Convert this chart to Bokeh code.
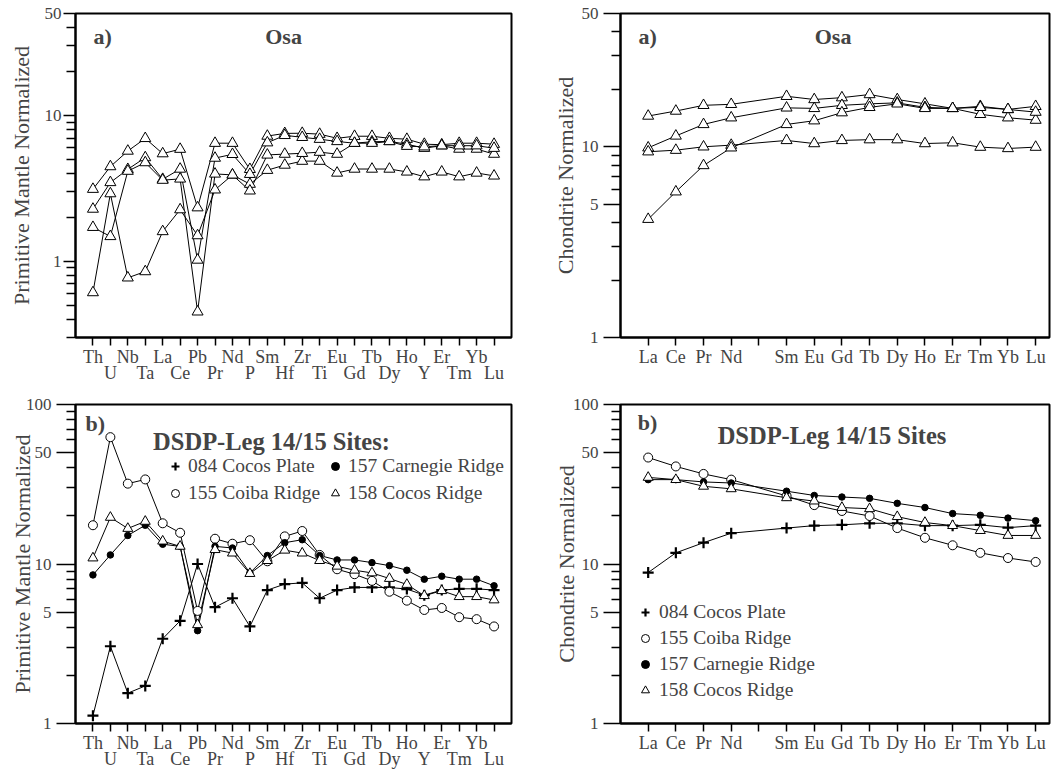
from bokeh.plotting import figure
from bokeh.models import (FixedTicker, LinearAxis, Label, Legend, LegendItem,
                          Range1d, NumeralTickFormatter)
from bokeh.layouts import column, row
from bokeh.embed import file_html
from bokeh.resources import INLINE

FONT = "Liberation Serif"

# ---------------- data ----------------
pm_elements = ["Th", "U", "Nb", "Ta", "La", "Ce", "Pb", "Pr", "Nd", "P", "Sm", "Hf",
               "Zr", "Ti", "Eu", "Gd", "Tb", "Dy", "Ho", "Y", "Er", "Tm", "Yb", "Lu"]
ree_elements = ["La", "Ce", "Pr", "Nd", "", "Sm", "Eu", "Gd", "Tb", "Dy", "Ho",
                "Er", "Tm", "Yb", "Lu"]   # Pm slot has a tick but no label / data

# a) Osa, primitive-mantle normalized
osa_pm_a = [3.12, 4.46, 5.7, 6.96, 5.47, 5.87, 2.33, 6.45, 6.45, 4.27, 7.22, 7.53,
            7.55, 7.44, 6.97, 7.2, 7.2, 6.97, 6.87, 6.35, 6.3, 6.45, 6.45, 6.35]
osa_pm_b = [2.28, 3.47, 4.27, 5.14, 3.65, 4.29, 1.02, 5.1, 5.41, 3.95, 6.5, 7.3,
            7.08, 6.87, 6.63, 6.45, 6.6, 6.63, 6.35, 5.96, 6.2, 5.88, 5.88, 5.43]
osa_pm_c = [1.71, 1.48, 4.15, 4.75, 3.6, 3.67, 0.45, 3.97, 3.91, 3.38, 4.21, 4.57,
            4.86, 4.86, 4.03, 4.29, 4.29, 4.29, 4.1, 3.8, 4.1, 3.8, 4.03, 3.85]
osa_pm_d = [0.61, 2.91, 0.77, 0.85, 1.6, 2.26, 1.50, 3.09, 3.91, 3.04, 5.36, 5.43,
            5.5, 5.6, 5.43, 6.45, 6.45, 6.63, 6.15, 6.1, 6.2, 6.2, 6.2, 5.96]

# a) Osa, chondrite normalized
osa_cn_a = [14.5, 15.4, 16.5, 16.7, 18.4, 17.7, 18.1, 18.8, 17.7, 16.8, 15.9, 16.3, 15.7, 16.3]
osa_cn_b = [9.88, 11.4, 13.1, 14.2, 16.0, 15.9, 16.5, 16.8, 17.0, 16.1, 15.9, 14.8, 14.2, 13.8]
osa_cn_c = [9.42, 9.6, 10.0, 10.2, 10.8, 10.4, 10.8, 10.9, 10.9, 10.4, 10.5, 9.96, 9.8, 9.96]
osa_cn_d = [4.17, 5.81, 7.98, 9.88, 13.1, 13.7, 15.1, 16.1, 16.8, 15.9, 15.9, 16.1, 15.7, 15.2]

# b) DSDP Leg 14/15 sites, primitive-mantle normalized
pm_084 = [1.12, 3.05, 1.55, 1.72, 3.4, 4.4, 10.0, 5.36, 6.1, 4.06, 6.86, 7.48,
          7.62, 6.1, 6.86, 7.13, 7.13, 7.13, 6.96, 6.38, 6.86, 6.99, 6.99, 6.86]
pm_155 = [17.5, 62.4, 31.9, 33.9, 18.0, 15.7, 5.08, 14.4, 13.4, 14.1, 10.4, 14.9,
          16.1, 11.4, 9.27, 8.63, 7.84, 6.7, 5.89, 5.15, 5.3, 4.64, 4.51, 4.06]
pm_157 = [8.54, 11.4, 15.1, 17.5, 13.3, 12.9, 3.82, 12.9, 12.6, 8.79, 11.3, 13.6,
          14.2, 11.3, 10.6, 10.6, 10.2, 9.77, 9.14, 8.03, 8.38, 8.03, 8.03, 7.3]
pm_158 = [10.9, 19.6, 16.7, 18.5, 13.9, 12.9, 4.16, 12.3, 11.7, 8.71, 10.5, 12.2,
          11.7, 10.5, 9.68, 9.14, 8.79, 8.11, 7.44, 6.33, 6.8, 6.24, 6.24, 5.95]

# b) DSDP Leg 14/15 sites, chondrite normalized
cn_084 = [8.84, 11.75, 13.6, 15.6, 16.8, 17.4, 17.6, 18.0, 18.0, 17.4, 17.4, 17.6, 16.9, 17.4]
cn_155 = [46.5, 40.9, 36.7, 33.8, 26.7, 23.4, 21.5, 20.0, 16.8, 14.6, 13.1, 11.75, 10.9, 10.3]
cn_157 = [33.8, 33.8, 32.7, 32.2, 28.6, 26.9, 26.3, 25.8, 24.0, 22.6, 20.7, 20.2, 19.4, 18.7]
cn_158 = [34.9, 33.8, 30.7, 29.6, 26.0, 24.8, 22.6, 22.2, 19.8, 18.2, 17.4, 16.2, 15.1, 15.1]

site_labels = ["084 Cocos Plate", "155 Coiba Ridge", "157 Carnegie Ridge", "158 Cocos Ridge"]

pm_x = list(range(1, len(pm_elements) + 1))
ree_x = [i + 1 for i, e in enumerate(ree_elements) if e]

# ---------------- helpers ----------------
def make_fig(w, h, xr, yr, bl, br, bt, bb):
    p = figure(width=w, height=h, x_range=Range1d(*xr), y_range=Range1d(*yr),
               y_axis_type="log", output_backend="svg", toolbar_location=None,
               min_border_left=bl, min_border_right=br, min_border_top=bt,
               min_border_bottom=bb)
    p.grid.visible = False
    p.outline_line_color = "black"
    p.outline_line_width = 2
    p.background_fill_color = "white"
    p.border_fill_color = "white"
    return p


def style_y(p, label, major, minor, tick_out, lab_standoff, standoff):
    ax = p.yaxis[0]
    ax.ticker = FixedTicker(ticks=major, minor_ticks=minor)
    ax.formatter = NumeralTickFormatter(format="0")
    ax.axis_label = label
    ax.axis_label_text_font = FONT
    ax.axis_label_text_font_size = "22px"
    ax.axis_label_text_font_style = "normal"
    ax.axis_label_standoff = standoff
    ax.major_label_text_font = FONT
    ax.major_label_text_font_size = "17px"
    ax.major_label_standoff = lab_standoff
    ax.major_tick_out = tick_out
    ax.major_tick_in = 0
    ax.minor_tick_out = 9
    ax.minor_tick_in = 0
    ax.axis_line_width = 2
    ax.major_tick_line_width = 1.5
    ax.minor_tick_line_width = 1.5


def style_x_common(ax):
    ax.major_label_text_font = FONT
    ax.major_label_text_font_size = "18px"
    ax.minor_tick_line_color = None
    ax.major_tick_in = 0


def pm_xaxes(p):
    ax = p.xaxis[0]
    ax.ticker = FixedTicker(ticks=pm_x)
    ax.major_label_overrides = {x: (e if i % 2 == 0 else " ")
                                for i, (x, e) in enumerate(zip(pm_x, pm_elements))}
    style_x_common(ax)
    ax.major_tick_out = 8
    ax.major_label_standoff = 1
    ax.axis_line_width = 2
    ax.major_tick_line_width = 1.5
    even = [x for i, x in enumerate(pm_x) if i % 2 == 1]
    ax2 = LinearAxis(ticker=FixedTicker(ticks=even),
                     major_label_overrides={x: pm_elements[x - 1] for x in even})
    style_x_common(ax2)
    ax2.axis_line_color = None
    ax2.major_tick_line_color = None
    ax2.major_tick_out = 0
    ax2.major_label_standoff = -7
    p.add_layout(ax2, "below")


def ree_xaxis(p):
    ax = p.xaxis[0]
    ticks = list(range(1, len(ree_elements) + 1))
    ax.ticker = FixedTicker(ticks=ticks)
    ax.major_label_overrides = {x: (e if e else " ") for x, e in zip(ticks, ree_elements)}
    style_x_common(ax)
    ax.major_tick_out = 8
    ax.major_label_standoff = 1
    ax.axis_line_width = 2
    ax.major_tick_line_width = 1.5


def add_text(p, x, y, text, size="22px", align="left", bold=True):
    p.add_layout(Label(x=x, y=y, text=text, text_font=FONT, text_font_size=size,
                       text_font_style="bold" if bold else "normal",
                       text_align=align, text_baseline="middle"))


def osa_series(p, xs, series, size):
    for s in series:
        p.line(xs, s, line_color="black", line_width=1)
    for s in series:
        p.scatter(xs, s, marker="triangle", size=size, fill_color="white",
                  line_color="black", line_width=1)


def site_series(p, xs, series):
    for s in series:
        p.line(xs, s, line_color="black", line_width=1)
    r = []
    r.append(p.scatter(xs, series[0], marker="cross", size=11, line_color="black", line_width=2.2))
    r.append(p.scatter(xs, series[1], marker="circle", size=9, fill_color="white",
                       line_color="black", line_width=1))
    r.append(p.scatter(xs, series[2], marker="circle", size=6.5, fill_color="black",
                       line_color="black", line_width=1))
    r.append(p.scatter(xs, series[3], marker="triangle", size=10, fill_color="white",
                       line_color="black", line_width=1))
    return r


def make_legend(items, loc, spacing, standoff):
    lg = Legend(items=items, location=loc, orientation="vertical")
    lg.label_text_font = FONT
    lg.label_text_font_size = "19.5px"
    lg.glyph_width = 20
    lg.glyph_height = 20
    lg.label_height = 20
    lg.label_standoff = standoff
    lg.spacing = spacing
    lg.padding = 0
    lg.margin = 0
    lg.border_line_color = None
    lg.background_fill_alpha = 0
    return lg


minor_low = [0.3, 0.4, 0.5, 0.6, 0.7, 0.8, 0.9]
minor_mid = [2, 3, 4, 5, 6, 7, 8, 9]
minor_hi = [20, 30, 40]
minor_full = [2, 3, 4, 6, 7, 8, 9, 20, 30, 40, 60, 70, 80, 90]

TOP_H = 386
BOT_H = 386
LEFT_W = 527
RIGHT_W = 525

# ---------------- panel 1: Osa PM ----------------
p1 = make_fig(LEFT_W, TOP_H, (0, 25), (0.3, 50), 75, 16, 13, 49)
style_y(p1, "Primitive Mantle Normalized", [1, 10, 50], minor_low + minor_mid + minor_hi, 12, 2, 8)
pm_xaxes(p1)
osa_series(p1, pm_x, [osa_pm_a, osa_pm_b, osa_pm_c, osa_pm_d], 11)
add_text(p1, 1.03, 34.5, "a)")
add_text(p1, 11.93, 34.5, "Osa", align="center")

# ---------------- panel 2: Osa chondrite ----------------
p2 = make_fig(RIGHT_W, TOP_H, (0, 15.5), (1, 50), 93, 3, 13, 49)
style_y(p2, "Chondrite Normalized", [1, 5, 10, 50], [2, 3, 4, 6, 7, 8, 9] + minor_hi, 17, 5, 1)
ree_xaxis(p2)
osa_series(p2, ree_x, [osa_cn_a, osa_cn_b, osa_cn_c, osa_cn_d], 11)
add_text(p2, 0.65, 38.1, "a)")
add_text(p2, 7.68, 38.1, "Osa", align="center")

# ---------------- panel 3: DSDP PM ----------------
p3 = make_fig(LEFT_W, BOT_H, (0, 25), (1, 100), 75, 16, 18, 49)
style_y(p3, "Primitive Mantle Normalized", [1, 5, 10, 50, 100], minor_full, 19, 5, -12)
pm_xaxes(p3)
r3 = site_series(p3, pm_x, [pm_084, pm_155, pm_157, pm_158])
add_text(p3, 0.57, 76.3, "b)")
add_text(p3, 11.24, 58.3, "DSDP-Leg 14/15 Sites:", size="24.5px", align="center")
lg3a = make_legend([LegendItem(label=site_labels[0], renderers=[r3[0]]),
                    LegendItem(label=site_labels[1], renderers=[r3[1]])],
                   (90, 219), 5, 3)
lg3b = make_legend([LegendItem(label=site_labels[2], renderers=[r3[2]]),
                    LegendItem(label=site_labels[3], renderers=[r3[3]])],
                   (250, 219), 5, 3)
p3.add_layout(lg3a)
p3.add_layout(lg3b)

# ---------------- panel 4: DSDP chondrite ----------------
p4 = make_fig(RIGHT_W, BOT_H, (0, 15.5), (1, 100), 93, 3, 18, 49)
style_y(p4, "Chondrite Normalized", [1, 5, 10, 50, 100], minor_full, 17, 5, -9)
ree_xaxis(p4)
r4 = site_series(p4, ree_x, [cn_084, cn_155, cn_157, cn_158])
add_text(p4, 0.62, 77.3, "b)")
add_text(p4, 7.64, 64.2, "DSDP-Leg 14/15 Sites", size="24.5px", align="center")
lg4 = make_legend([LegendItem(label=l, renderers=[r]) for l, r in zip(site_labels, r4)],
                  (15, 22), 4, 4)
p4.add_layout(lg4)

layout = column(row(p1, p2), row(p3, p4))
open("out.html", "w").write(file_html(layout, INLINE))
